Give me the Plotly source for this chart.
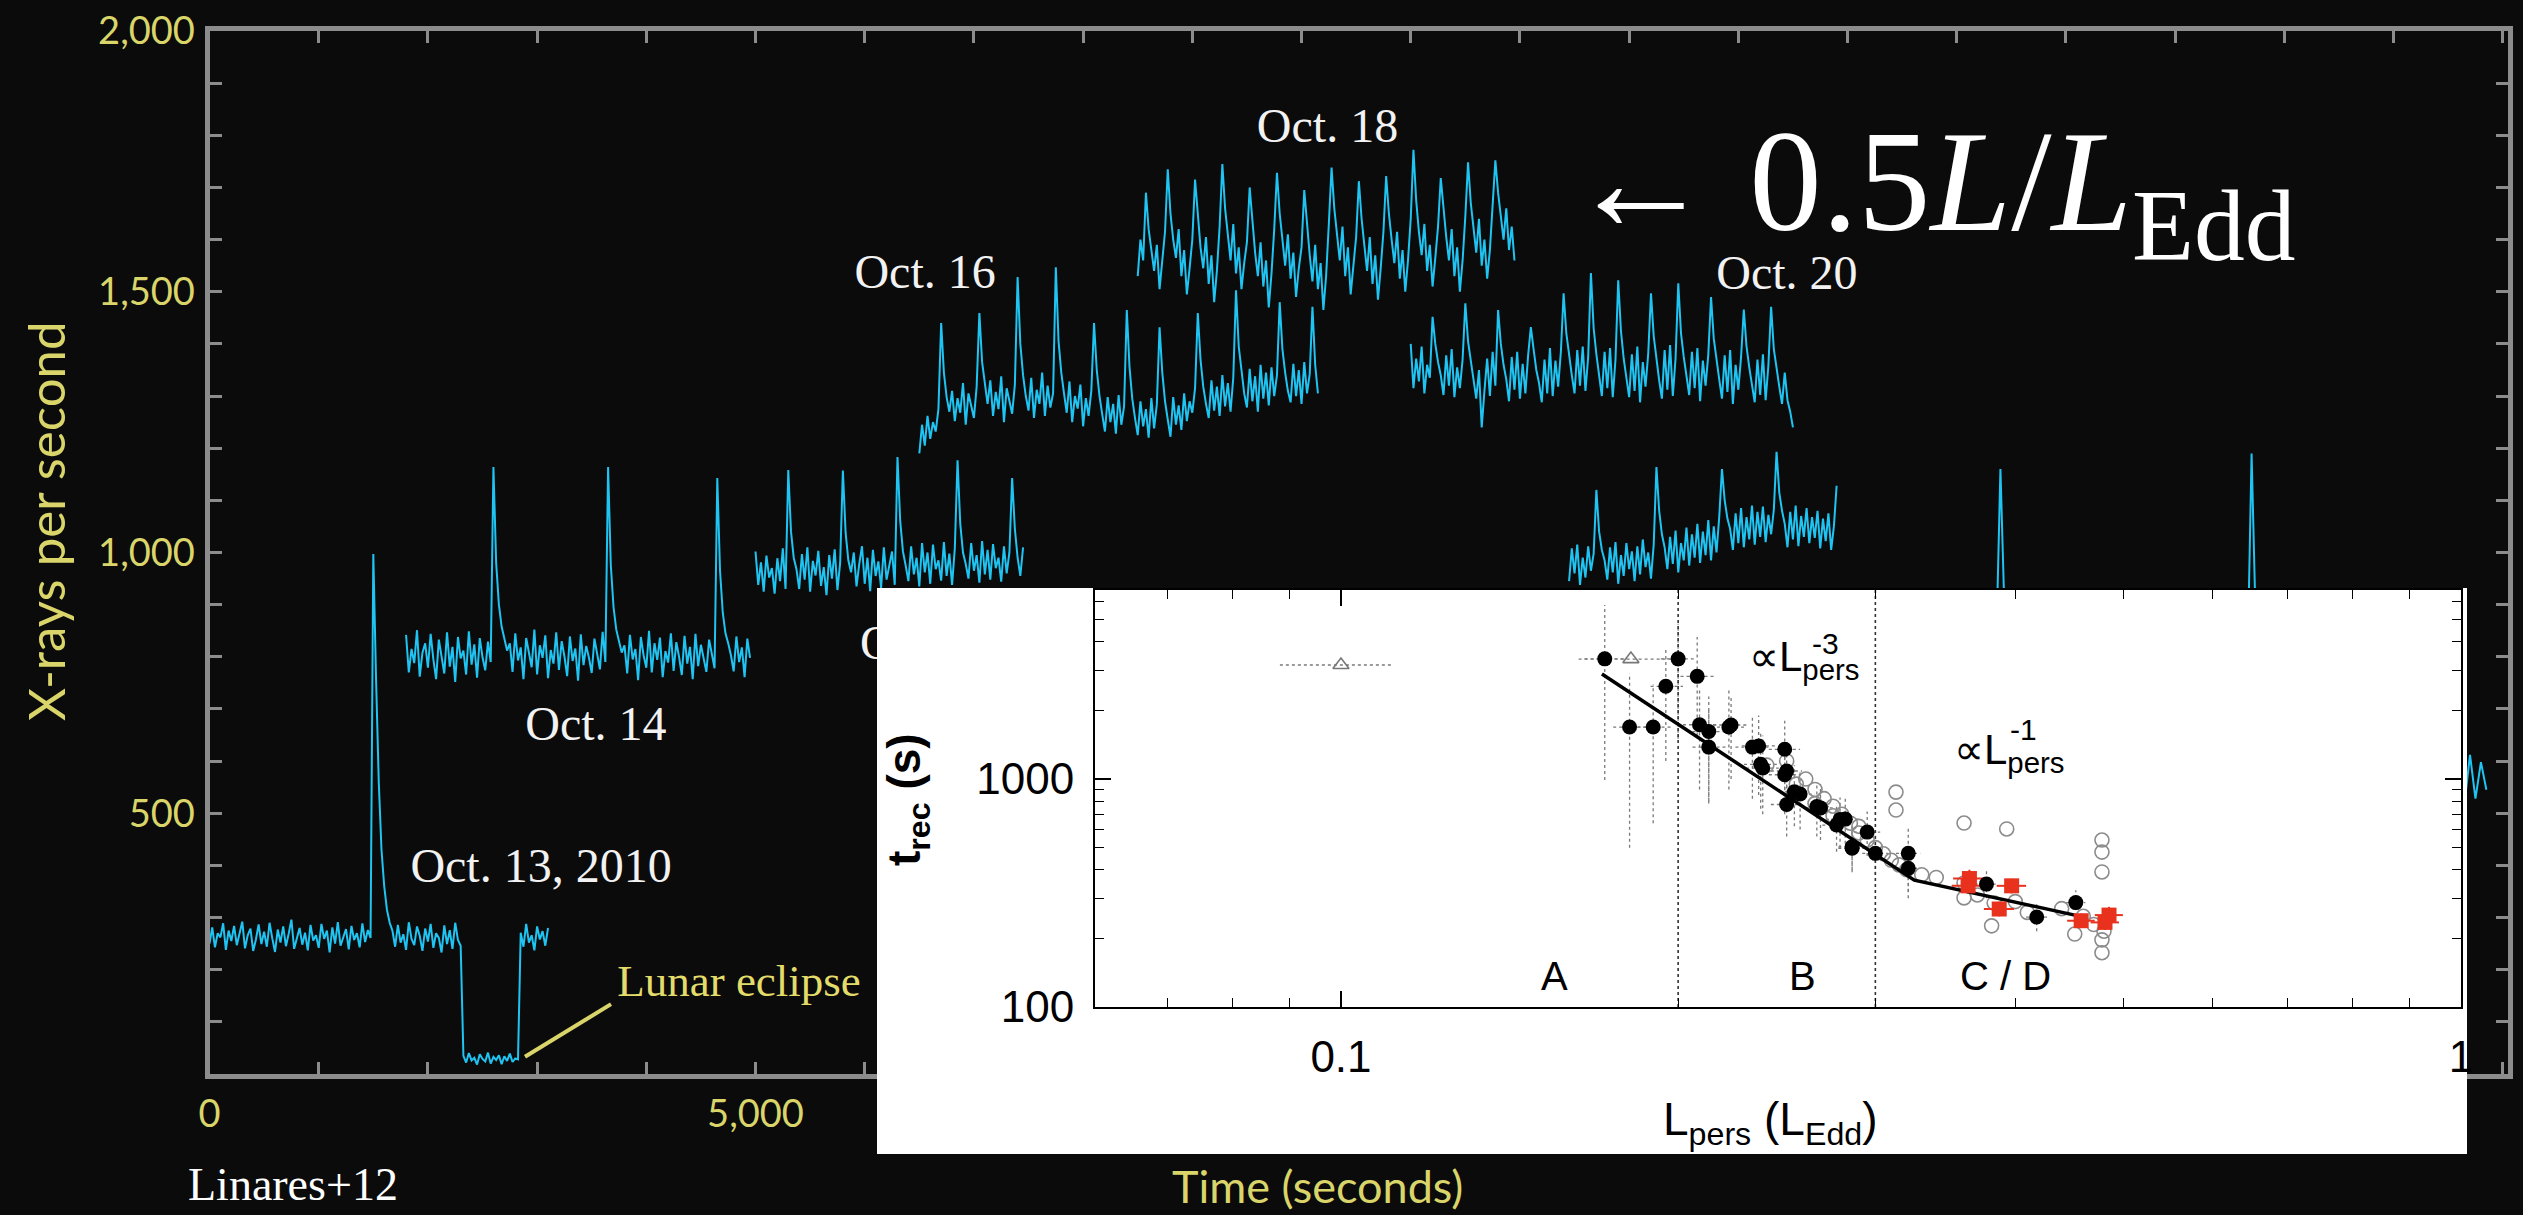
import numpy as np
import plotly.graph_objects as go

CYAN = "#1fc4f2"
YELLOW = "#d9d56a"
BG = "#0b0b0b"
FRAME = "#8c8c8c"
SERIF = "Liberation Serif"
SANS = "Liberation Sans"

# ---------------- RXTE light curves (X-rays per second) ----------------
STEP = 25          # s between samples for the observations in view
STEP_COARSE = 50   # s between samples for the mostly hidden late observations

oct13_start = 0
oct13_rate = [250, 281, 243, 270, 262, 289, 238, 275, 255, 284, 247, 268, 292, 241, 266, 279, 236, 258, 287, 249,
              273, 244, 290, 260, 234, 277, 252, 283, 245, 269, 296, 240, 263, 280, 248, 271, 237, 286, 256, 266,
              242, 288, 259, 275, 233, 281, 250, 291, 246, 264, 278, 239, 284, 257, 270, 243, 289, 253, 276, 261,
              997, 760, 560, 430, 360, 315, 290,
              275, 244, 286, 252, 268, 238, 291, 259, 247, 283, 265, 236, 279, 254, 288, 242, 270, 261, 233, 285,
              249, 276, 240, 290, 257, 246,
              35, 22, 40, 26, 31, 18, 38, 29, 24, 41, 20, 33, 27, 36, 19, 34, 25, 39, 23, 30, 28,
              271, 244, 288, 252, 266, 237, 283, 258, 274, 246, 280]

oct14_start = 1800
oct14_rate = [842, 770, 815, 788, 851, 762, 808, 826, 779, 844, 795, 757, 833, 802, 768, 847, 781, 819, 752, 838,
              797, 812, 766, 849, 785, 824, 760, 836, 799, 774, 829, 790,
              1164, 980, 900, 858, 835, 812, 826,
              771, 845, 793, 818, 757, 836, 804, 780, 852, 766, 822, 798, 841, 759, 813, 787, 847, 775, 830, 801,
              763, 839, 792, 816, 754, 843, 784, 821, 798, 769, 835, 808, 776, 848, 790,
              1164, 975, 895, 852, 830, 808, 822,
              768, 842, 795, 815, 755, 838, 803, 779, 850, 770, 826, 794, 837, 761, 811, 789, 845, 773, 828, 800,
              765, 840, 787, 819, 757, 844, 782, 823, 796, 771, 833, 806, 778,
              1143, 965, 885, 845, 826, 803,
              772, 839, 790, 818, 761, 835, 798]

oct15_start = 5000
oct15_rate = [1002, 938, 981, 925, 994, 952, 970, 921, 989, 945, 1008, 930,
              1158, 1040, 990, 968,
              930, 997, 948, 1010, 925, 984, 956, 1003, 936, 972, 918, 995, 950, 1006, 928, 980,
              1157, 1038, 985, 962,
              1000, 935, 978, 1012, 940, 990, 926, 1005, 955, 983, 932, 1010, 948, 975, 1002, 938,
              1183, 1060, 1002, 975,
              945, 1012, 958, 990, 935, 1018, 962, 1000, 940, 1015, 968, 985, 946, 1020, 955, 998, 938, 1008,
              1177, 1055, 1000, 978,
              950, 1018, 965, 995, 942, 1022, 958, 1005, 948, 1016, 970, 990, 944, 1012, 960, 1000,
              1143, 1045, 990, 955, 1010]

oct16_start = 6500
oct16_rate = [1190, 1245, 1205, 1262, 1218, 1250, 1232, 1275,
              1440, 1345, 1298, 1270,
              1310, 1252, 1296, 1268, 1325, 1245, 1305, 1280, 1258, 1318,
              1459, 1365, 1320, 1285,
              1330, 1262, 1308, 1275, 1338, 1250, 1315, 1290, 1266, 1322,
              1528, 1400, 1340, 1300,
              1272, 1335, 1258, 1312, 1285, 1345, 1262, 1320, 1278, 1305,
              1547, 1405, 1345, 1305,
              1268, 1328, 1250, 1300, 1276, 1322, 1242, 1296, 1262, 1310,
              1440, 1350, 1300, 1265,
              1232, 1298, 1250, 1285, 1228, 1302, 1245, 1280,
              1465, 1355, 1295, 1258,
              1225, 1290, 1242, 1275, 1220, 1296, 1238, 1284,
              1432, 1345, 1290, 1255,
              1222, 1298, 1245, 1282, 1235, 1305, 1252, 1290, 1268, 1315,
              1459, 1370, 1318, 1285,
              1258, 1330, 1272, 1318, 1262, 1340, 1280, 1325, 1270, 1335,
              1503, 1395, 1345, 1305,
              1278, 1352, 1290, 1338, 1270, 1360, 1295, 1345, 1282, 1355, 1300, 1340,
              1480, 1390, 1345, 1310,
              1288, 1362, 1300, 1350, 1285, 1365, 1305, 1342,
              1471, 1360, 1305]

oct18_start = 8500
oct18_rate = [1530, 1600, 1560, 1690, 1620, 1575, 1540, 1590, 1505, 1560,
              1615, 1735, 1650, 1600, 1565, 1620, 1530, 1580, 1495, 1545,
              1600, 1715, 1640, 1585, 1545, 1605, 1515, 1570, 1480, 1540,
              1625, 1745, 1660, 1610, 1560, 1630, 1535, 1585, 1505, 1555,
              1595, 1700, 1630, 1575, 1530, 1595, 1510, 1560, 1470, 1535,
              1620, 1728, 1650, 1595, 1550, 1610, 1525, 1575, 1490, 1545,
              1585, 1695, 1625, 1570, 1520, 1590, 1505, 1555, 1465, 1530,
              1630, 1738, 1660, 1605, 1560, 1625, 1530, 1585, 1495, 1550,
              1605, 1712, 1640, 1590, 1540, 1605, 1515, 1570, 1485, 1545,
              1615, 1722, 1650, 1600, 1555, 1615, 1525, 1580, 1500, 1560,
              1640, 1772, 1675, 1615, 1570, 1630, 1540, 1590, 1510, 1565,
              1625, 1718, 1655, 1605, 1560, 1620, 1530, 1585, 1500, 1560,
              1645, 1748, 1670, 1620, 1575, 1640, 1550, 1600, 1525, 1580,
              1665, 1752, 1690, 1640, 1600, 1660, 1580, 1625, 1560]

oct20_start = 11000
oct20_rate = [1400, 1315, 1372, 1328, 1395, 1305, 1360, 1335,
              1452, 1400, 1365, 1340,
              1302, 1378, 1320, 1390, 1298, 1355, 1315, 1370,
              1478, 1405, 1368, 1330,
              1295, 1350, 1240, 1310, 1372, 1300, 1385, 1320,
              1465, 1400, 1360, 1332,
              1290, 1375, 1312, 1385, 1295, 1362, 1305, 1378,
              1432, 1390, 1350, 1325,
              1288, 1370, 1305, 1392, 1300, 1368, 1318, 1385,
              1497, 1420, 1375, 1340,
              1305, 1388, 1320, 1395, 1310, 1375,
              1536, 1430, 1380, 1342,
              1300, 1385, 1315, 1392, 1298, 1370,
              1522, 1425, 1372, 1335,
              1298, 1380, 1310, 1395, 1288, 1365, 1318, 1382,
              1497, 1415, 1368, 1330,
              1295, 1388, 1312, 1398, 1300, 1372,
              1516, 1420, 1375, 1338,
              1302, 1385, 1315, 1392, 1290, 1368, 1320, 1380,
              1490, 1410, 1365, 1332,
              1295, 1378, 1308, 1388, 1285, 1360, 1312, 1375,
              1466, 1395, 1355, 1325,
              1288, 1370, 1302, 1380, 1292, 1358,
              1471, 1390, 1350, 1318,
              1285, 1345, 1292, 1270, 1240]

oct19_start = 12450
oct19_rate = [945, 1008, 960, 1015, 938, 990, 952, 1012, 965, 998,
              1120, 1040, 1005, 985,
              948, 1010, 962, 1020, 940, 995, 955, 1018, 968, 1002, 945, 1012, 958, 1025, 972, 1000, 950, 1015,
              1164, 1080, 1035, 1010,
              968, 1030, 978, 1042, 962, 1018, 985, 1048, 975, 1035, 990, 1055, 980, 1040, 995, 1062, 985, 1050,
              1000, 1068,
              1160, 1100, 1065, 1045,
              1005, 1075, 1018, 1085, 1010, 1068, 1025, 1090, 1015, 1078, 1030, 1088, 1020, 1072, 1035, 1082,
              1193, 1115, 1080, 1055,
              1010, 1078, 1025, 1090, 1012, 1070, 1030, 1085, 1018, 1068, 1028, 1080, 1008, 1065, 1022, 1075,
              1005, 1050,
              1128]

oct21_start = 15850
oct21_rate = [688, 712, 695, 720, 701, 684, 716, 698, 707, 690, 718,
              1160, 790, 735, 705, 692, 719, 700, 686, 713, 697, 708, 690]

oct22_start = 18150
oct22_rate = [655, 640, 668, 647, 662, 638, 671, 650, 644, 666, 652,
              1190, 760, 690, 660, 645, 672, 648, 658, 641, 667, 652, 646]

oct23_start = 20250
oct23_rate = [540, 600, 530, 610, 545, 525, 605, 540, 520, 612, 528, 598, 545]

date_labels = ["Oct. 13, 2010", "Oct. 14", "Oct. 15", "Oct. 16", "Oct. 18", "Oct. 20"]
date_label_time = [3036, 3539, 6603, 6553, 10238, 14445]
date_label_rate = [391, 663, 819, 1530, 1810, 1528]

eclipse_label = "Lunar eclipse"
eclipse_label_time = 4849
eclipse_label_rate = 171
eclipse_pointer_time = [2889, 3677]
eclipse_pointer_rate = [33, 134]

# ---------------- inset: recurrence time vs persistent luminosity ----------------
black_L = [0.172, 0.181, 0.190, 0.195, 0.200, 0.208, 0.209, 0.213, 0.213, 0.222, 0.223, 0.233,
           0.236, 0.237, 0.238, 0.249, 0.249, 0.250, 0.250, 0.254, 0.257, 0.266, 0.268, 0.277,
           0.279, 0.282, 0.286, 0.286, 0.295, 0.300, 0.321, 0.321, 0.377, 0.418, 0.453]
black_t = [3365, 1690, 1690, 2550, 3365, 2820, 1730, 1615, 1380, 1690, 1725, 1380,
           1396, 1160, 1117, 1350, 1044, 1084, 773, 879, 859, 757, 747, 628,
           665, 667, 504, 497, 585, 472, 472, 406, 346, 248, 287]
black_t_lo = [990, 500, 640, 1200, 1500, 1550, 900, 800, 780, 900, 1000, 820,
              850, 740, 700, 900, 700, 720, 560, 620, 600, 560, 540, 480,
              500, 520, 400, 390, 460, 380, 320, 300, 300, 215, 250]
black_t_hi = [5800, 2900, 2600, 3700, 4800, 4200, 2500, 2300, 2000, 2500, 2300, 1900,
              1900, 1600, 1550, 1800, 1400, 1450, 1000, 1150, 1100, 960, 950, 780,
              830, 820, 620, 610, 720, 570, 620, 520, 395, 285, 325]
black_L_lo = [0.165, 0.175, 0.184, 0.189, 0.193, 0.201, 0.202, 0.206, 0.206, 0.214, 0.215, 0.225,
              0.228, 0.229, 0.230, 0.241, 0.241, 0.242, 0.242, 0.246, 0.249, 0.258, 0.260, 0.269,
              0.271, 0.274, 0.278, 0.278, 0.287, 0.292, 0.313, 0.313, 0.368, 0.409, 0.444]
black_L_hi = [0.180, 0.188, 0.197, 0.202, 0.207, 0.216, 0.217, 0.221, 0.221, 0.230, 0.231, 0.241,
              0.244, 0.245, 0.246, 0.257, 0.257, 0.258, 0.258, 0.262, 0.265, 0.274, 0.276, 0.285,
              0.287, 0.290, 0.294, 0.294, 0.303, 0.308, 0.329, 0.329, 0.386, 0.427, 0.462]

gray_L = [0.240, 0.250, 0.255, 0.260, 0.265, 0.265, 0.270, 0.275, 0.275, 0.280, 0.285, 0.290,
          0.290, 0.295, 0.300, 0.305, 0.310, 0.313, 0.313, 0.315, 0.320, 0.330, 0.340, 0.360,
          0.360, 0.360, 0.370, 0.381, 0.383, 0.393, 0.400, 0.410, 0.440, 0.452, 0.460, 0.470,
          0.478, 0.478, 0.478, 0.478, 0.478, 0.480]
gray_t = [1150, 1200, 950, 1000, 900, 780, 820, 760, 690, 700, 640, 580,
          620, 540, 500, 470, 440, 876, 731, 420, 400, 380, 370, 641,
          350, 301, 310, 227, 286, 604, 290, 260, 270, 209, 250, 230,
          540, 478, 391, 197, 173, 215]

red_L = [0.364, 0.363, 0.397, 0.387, 0.458, 0.485, 0.481]
red_t = [366, 340, 340, 269, 239, 253, 235]
red_L_lo = [0.352, 0.351, 0.385, 0.375, 0.445, 0.471, 0.467]
red_L_hi = [0.376, 0.375, 0.409, 0.399, 0.471, 0.499, 0.495]
red_t_lo = [335, 315, 315, 250, 222, 233, 218]
red_t_hi = [400, 365, 365, 290, 257, 275, 252]

tri_L = [0.100, 0.1815]
tri_t = [3162, 3357]
tri_L_lo = [0.0882, 0.163]
tri_L_hi = [0.111, 0.199]

fit_L = [0.171, 0.325, 0.452]
fit_t = [2890, 360, 253]

boundary_L = [0.2, 0.3]
inset_t_span = [100, 6745]

region_labels = ["A", "B", "C / D"]
region_label_L = [0.155, 0.2585, 0.392]
region_label_t = 137

slope_base_L = [0.2305, 0.351]
slope_base_t = [3327, 1313]
slope_exp_text = ["-3", "-1"]
slope_exp_L = [0.271, 0.407]
slope_exp_t = [3947, 1641]

# ---------------- figure ----------------
fig = go.Figure()

segments = [(oct13_start, oct13_rate, STEP), (oct14_start, oct14_rate, STEP),
            (oct15_start, oct15_rate, STEP), (oct16_start, oct16_rate, STEP),
            (oct18_start, oct18_rate, STEP), (oct20_start, oct20_rate, STEP),
            (oct19_start, oct19_rate, STEP), (oct21_start, oct21_rate, STEP_COARSE),
            (oct22_start, oct22_rate, STEP_COARSE), (oct23_start, oct23_rate, STEP_COARSE)]
for start, rates, step in segments:
    t = start + step * np.arange(len(rates))
    fig.add_trace(go.Scatter(x=t, y=rates, mode="lines", line=dict(color=CYAN, width=2),
                             xaxis="x", yaxis="y", hoverinfo="skip"))

fig.add_trace(go.Scatter(x=eclipse_pointer_time, y=eclipse_pointer_rate, mode="lines",
                         line=dict(color=YELLOW, width=4), xaxis="x", yaxis="y", hoverinfo="skip"))
fig.add_trace(go.Scatter(x=date_label_time, y=date_label_rate, mode="text", text=date_labels,
                         textposition="middle center",
                         textfont=dict(family=SERIF, size=48, color="#f2f2f2"),
                         xaxis="x", yaxis="y", hoverinfo="skip"))
fig.add_trace(go.Scatter(x=[eclipse_label_time], y=[eclipse_label_rate], mode="text",
                         text=[eclipse_label], textposition="middle center",
                         textfont=dict(family=SERIF, size=45, color="#e3dc6a"),
                         xaxis="x", yaxis="y", hoverinfo="skip"))

# white inset panel (its own subplot so it is drawn above the light curves)
fig.add_trace(go.Scatter(x=[0, 1, 1, 0, 0], y=[0, 0, 1, 1, 0], mode="lines", fill="toself",
                         fillcolor="white", line=dict(width=0, color="white"),
                         xaxis="x2", yaxis="y2", hoverinfo="skip"))


def seg_pairs(a_list, lo_list, hi_list, vertical):
    xs, ys = [], []
    for a, lo, hi in zip(a_list, lo_list, hi_list):
        if vertical:
            xs += [a, a, None]
            ys += [lo, hi, None]
        else:
            xs += [lo, hi, None]
            ys += [a, a, None]
    return xs, ys


ERR = dict(color="#7a7a7a", width=1.3, dash="dot")
vx, vy = seg_pairs(black_L, black_t_lo, black_t_hi, True)
fig.add_trace(go.Scatter(x=vx, y=vy, mode="lines", line=ERR, xaxis="x3", yaxis="y3", hoverinfo="skip"))
hx, hy = seg_pairs(black_t, black_L_lo, black_L_hi, False)
fig.add_trace(go.Scatter(x=hx, y=hy, mode="lines", line=ERR, xaxis="x3", yaxis="y3", hoverinfo="skip"))
tx, ty = seg_pairs(tri_t, tri_L_lo, tri_L_hi, False)
fig.add_trace(go.Scatter(x=tx, y=ty, mode="lines", line=ERR, xaxis="x3", yaxis="y3", hoverinfo="skip"))

for L in boundary_L:
    fig.add_trace(go.Scatter(x=[L, L], y=inset_t_span, mode="lines",
                             line=dict(color="#333333", width=1.6, dash="dot"),
                             xaxis="x3", yaxis="y3", hoverinfo="skip"))

fig.add_trace(go.Scatter(x=gray_L, y=gray_t, mode="markers",
                         marker=dict(symbol="circle-open", size=14, color="#8c8c8c", line=dict(width=1.6)),
                         xaxis="x3", yaxis="y3", hoverinfo="skip"))
fig.add_trace(go.Scatter(x=tri_L, y=tri_t, mode="markers",
                         marker=dict(symbol="triangle-up-open", size=14, color="#777777", line=dict(width=1.6)),
                         xaxis="x3", yaxis="y3", hoverinfo="skip"))

RED_ERR = dict(color="#e8321e", width=2)
rvx, rvy = seg_pairs(red_L, red_t_lo, red_t_hi, True)
fig.add_trace(go.Scatter(x=rvx, y=rvy, mode="lines", line=RED_ERR, xaxis="x3", yaxis="y3", hoverinfo="skip"))
rhx, rhy = seg_pairs(red_t, red_L_lo, red_L_hi, False)
fig.add_trace(go.Scatter(x=rhx, y=rhy, mode="lines", line=RED_ERR, xaxis="x3", yaxis="y3", hoverinfo="skip"))

fig.add_trace(go.Scatter(x=fit_L, y=fit_t, mode="lines", line=dict(color="black", width=3.5),
                         xaxis="x3", yaxis="y3", hoverinfo="skip"))
fig.add_trace(go.Scatter(x=black_L, y=black_t, mode="markers",
                         marker=dict(symbol="circle", size=15, color="black"),
                         xaxis="x3", yaxis="y3", hoverinfo="skip"))
fig.add_trace(go.Scatter(x=red_L, y=red_t, mode="markers",
                         marker=dict(symbol="square", size=15, color="#e8321e"),
                         xaxis="x3", yaxis="y3", hoverinfo="skip"))

W, H = 2523, 1215
bg_xdom = [209.5 / W, 2508 / W]
bg_ydom = [1 - 1074 / H, 1 - 31 / H]
box_xdom = [877 / W, 2467 / W]
box_ydom = [1 - 1154 / H, 1 - 588 / H]
in_xdom = [1095 / W, 2461 / W]
in_ydom = [1 - 1007 / H, 1 - 590 / H]

bg_tick = dict(ticks="inside", ticklen=12, tickwidth=2.5, tickcolor=FRAME)
in_tick = dict(ticks="inside", ticklen=16, tickwidth=1.6, tickcolor="black")
in_minor = dict(ticks="inside", ticklen=9, tickwidth=1.3, tickcolor="black")

CENTER = dict(xanchor="center", yanchor="middle", showarrow=False)
annotations = [
    dict(text="X-rays per second", x=45 / W, y=1 - 521 / H, xref="paper", yref="paper",
         textangle=-90, font=dict(family="Lato", size=51, color=YELLOW), **CENTER),
    dict(text="Time (seconds)", x=1317 / W, y=1 - 1186 / H, xref="paper", yref="paper",
         font=dict(family="Lato", size=45, color=YELLOW), **CENTER),
    dict(text="Linares+12", x=293 / W, y=1 - 1184 / H, xref="paper", yref="paper",
         font=dict(family=SERIF, size=46, color="white"), **CENTER),
    dict(text="← 0.5<i>L</i>/<i>L</i><sub>Edd</sub>", x=1566 / W, y=1 - 192 / H,
         xref="paper", yref="paper", xanchor="left", yanchor="middle", showarrow=False,
         font=dict(family=SERIF, size=145, color="white")),
    dict(text="L<sub>pers</sub> (L<sub>Edd</sub>)", x=1770 / W, y=1 - 1122 / H,
         xref="paper", yref="paper", font=dict(family=SANS, size=46, color="black"), **CENTER),
    dict(text="<b>t<sub>rec</sub> (s)</b>", x=907 / W, y=1 - 800 / H, xref="paper", yref="paper",
         textangle=-90, font=dict(family=SANS, size=46, color="black"), **CENTER),
]
for lab, L in zip(region_labels, region_label_L):
    annotations.append(dict(text=lab, x=np.log10(L), y=np.log10(region_label_t), xref="x3", yref="y3",
                            font=dict(family=SANS, size=40, color="black"), **CENTER))
for L, t in zip(slope_base_L, slope_base_t):
    annotations.append(dict(text="∝L<sub>pers</sub>", x=np.log10(L), y=np.log10(t), xref="x3", yref="y3",
                            xanchor="left", yanchor="middle", showarrow=False,
                            font=dict(family=SANS, size=42, color="black")))
for txt, L, t in zip(slope_exp_text, slope_exp_L, slope_exp_t):
    annotations.append(dict(text=txt, x=np.log10(L), y=np.log10(t), xref="x3", yref="y3",
                            font=dict(family=SANS, size=30, color="black"), **CENTER))

fig.update_layout(
    width=W, height=H, margin=dict(l=0, r=0, t=0, b=0, autoexpand=False),
    paper_bgcolor=BG, plot_bgcolor="rgba(0,0,0,0)", showlegend=False,
    xaxis=dict(domain=bg_xdom, range=[0, 21048], anchor="y", tickmode="array",
               tickvals=[0, 5000], tickformat=",d", automargin=False,
               minor=dict(dtick=1000, tick0=0, **bg_tick), showline=True, linecolor=FRAME,
               linewidth=5, mirror="allticks", showgrid=False, zeroline=False,
               tickfont=dict(family="Lato", size=38, color=YELLOW), ticklabelstandoff=2,
               **bg_tick),
    yaxis=dict(domain=bg_ydom, range=[0, 2000], anchor="x", tickmode="array",
               tickvals=[500, 1000, 1500, 2000], tickformat=",d", automargin=False,
               minor=dict(dtick=100, tick0=0, **bg_tick), showline=True, linecolor=FRAME,
               linewidth=5, mirror="allticks", showgrid=False, zeroline=False,
               tickfont=dict(family="Lato", size=38, color=YELLOW), ticklabelstandoff=2,
               **bg_tick),
    xaxis2=dict(domain=box_xdom, range=[0, 1], anchor="y2", visible=False, automargin=False),
    yaxis2=dict(domain=box_ydom, range=[0, 1], anchor="x2", visible=False, automargin=False),
    xaxis3=dict(domain=in_xdom, type="log", range=[-1.2196, 0], anchor="y3", automargin=False,
                tickmode="array", tickvals=[0.1, 1], ticktext=["0.1", "1"],
                minor=dict(tickmode="array",
                           tickvals=[0.06, 0.07, 0.08, 0.09, 0.2, 0.3, 0.4, 0.5, 0.6, 0.7, 0.8, 0.9],
                           **in_minor),
                showline=True, linecolor="black", linewidth=2, mirror="allticks",
                showgrid=False, zeroline=False, ticklabelstandoff=10,
                tickfont=dict(family=SANS, size=44, color="black"), **in_tick),
    yaxis3=dict(domain=in_ydom, type="log", range=[2, 3.829], anchor="x3", automargin=False,
                tickmode="array", tickvals=[100, 1000], ticktext=["100", "1000"],
                minor=dict(tickmode="array",
                           tickvals=[200, 300, 400, 500, 600, 700, 800, 900, 2000, 3000, 4000, 5000, 6000],
                           **in_minor),
                showline=True, linecolor="black", linewidth=2, mirror="allticks",
                showgrid=False, zeroline=False, ticklabelstandoff=10,
                tickfont=dict(family=SANS, size=44, color="black"), **in_tick),
    annotations=annotations,
)

fig.write_html("out.html")
